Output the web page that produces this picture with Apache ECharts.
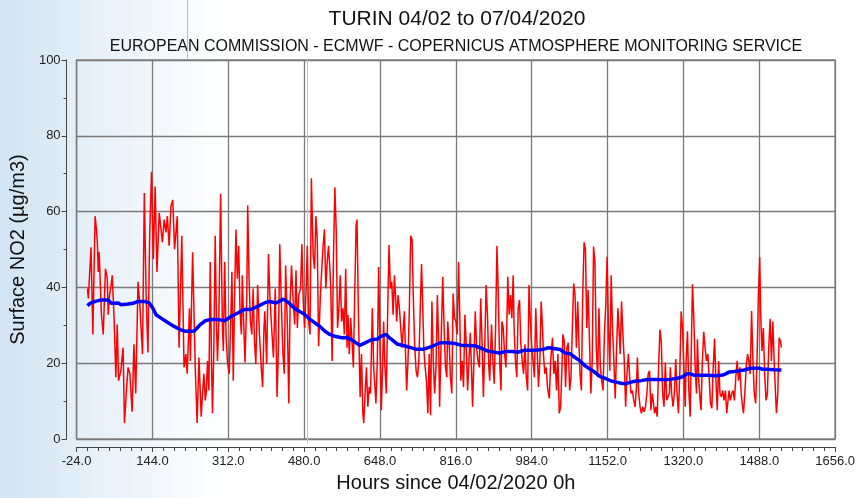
<!DOCTYPE html>
<html>
<head>
<meta charset="utf-8">
<script src="https://cdn.jsdelivr.net/npm/echarts/dist/echarts.min.js"></script>
<style>
  html, body { margin: 0; padding: 0; background: #fff; }
  #chart { width: 858px; height: 498px; }
</style>
</head>
<body>
<div id="chart"></div>
<script>
// hourly NO2 (hours since 04/02/2020 0h)
const hours = [0,2,8,12,17,20,22,24,26,31,35,40,44,46,49,52,55,59,63,66,69,74,79,82,86,90,94,99,103,107,112,116,122,126,130,134,138,142,146,150,154,159,163,166,170,174,177,181,185,189,193,199,203,209,214,218,221,226,228,233,239,243,247,252,
  255,258,261,263,266,269,272,275,277,280,283,286,288,291,295,299,301,304,307,310,314,317,320,323,326,329,332,335,338,341,343,346,349,353,355,358,361,364,367,370,373,377,381,385,388,391,393,397,401,404,408,412,416,420,423,426,430,433,436,439,443,446,449,452,455,459,462,465,468,472,475,478,481,484,487,490,493,496,500,503,506,509,
  512,516,519,522,525,528,531,534,537,539,542,545,548,551,554,557,560,563,566,569,572,575,577,580,583,586,589,592,595,597,600,604,607,610,612,615,618,621,624,627,631,634,639,642,645,648,651,654,656,659,662,665,668,671,674,677,680,683,685,688,691,694,697,702,704,707,710,713,716,719,722,725,728,731,734,737,740,742,745,748,751,754,757,760,763,766,769,
  772,775,778,780,783,787,790,793,796,798,801,804,807,810,813,816,819,822,825,827,830,833,836,839,842,845,848,851,853,856,859,862,865,868,871,874,877,880,883,886,889,891,895,898,901,904,907,910,913,916,918,921,924,927,931,934,937,940,943,945,948,951,954,957,960,963,966,969,972,975,978,981,984,987,990,993,996,999,1002,1005,1008,1010,1013,1016,1019,1023,1026,
  1030,1033,1036,1039,1042,1045,1048,1051,1053,1056,1059,1062,1065,1068,1071,1074,1077,1080,1083,1086,1089,1091,1094,1097,1100,1103,1106,1109,1112,1115,1118,1121,1124,1127,1130,1133,1136,1139,1142,1145,1148,1151,1154,1157,1160,1163,1166,1169,1172,1175,1178,1180,1183,1186,1189,1192,1195,1198,1201,1204,1207,1210,1213,1216,1218,1221,1224,1227,1230,1233,1236,1239,1242,1245,1248,1251,1253,1256,1259,1262,1265,1268,1271,1274,1277,1280,1283,1286,
  1289,1291,1294,1297,1300,1303,1306,1309,1312,1315,1318,1321,1324,1326,1329,1332,1335,1337,1340,1343,1346,1349,1351,1354,1357,1359,1362,1365,1368,1371,1374,1377,1380,1383,1386,1389,1392,1395,1398,1401,1404,1407,1410,1413,1416,1418,1421,1424,1427,1430,1433,1436,1439,1442,1445,1448,1451,1453,1456,1459,1462,1465,1468,1471,1474,1477,1480,1483,1486,1489,1491,1494,1497,1500,1503,1506,1509,1512,1515,1518,1521,1524,1526,1529,1532,1535,1537];
const no2 = [39.7,37.1,50.6,27.6,58.8,55.3,51.9,44.1,49.3,32.8,27.6,44.9,42.3,32.8,38.0,40.2,43.2,31.9,16.3,30.2,15.4,18.0,24.1,4.2,12.0,18.9,17.2,7.2,25.0,12.0,41.5,35.4,22.4,64.9,38.0,22.8,54.5,70.5,47.5,66.6,44.1,59.7,55.3,51.9,57.9,54.5,58.8,51.0,61.4,63.1,50.1,58.8,24.1,53.6,18.9,22.4,17.2,34.5,20.6,49.3,18.0,4.2,21.5,5.9,
  12.0,17.2,10.2,12.0,20.6,12.8,46.7,18.9,6.8,24.1,53.6,29.3,20.6,31.0,64.7,29.3,23.2,46.7,27.6,20.6,17.2,29.3,44.1,15.4,38.0,55.3,42.3,51.0,33.7,27.6,43.2,31.0,20.2,38.0,61.6,42.3,31.0,27.6,39.7,25.8,19.8,40.6,27.6,18.9,13.7,29.3,33.7,19.8,48.8,38.0,29.3,21.5,39.7,11.1,24.1,51.4,33.7,22.4,17.2,45.8,29.3,9.4,36.3,45.8,38.0,30.2,44.5,29.3,38.0,39.7,51.4,36.3,29.3,38.0,51.0,31.0,27.6,68.8,48.4,44.9,58.8,52.7,
  24.5,38.0,44.9,51.0,55.3,39.7,46.7,51.0,44.9,39.7,20.6,48.4,66.4,55.3,29.3,34.5,43.2,31.0,34.5,27.6,44.9,24.1,32.8,22.4,31.9,25.8,18.9,38.0,56.2,57.9,34.5,11.1,22.4,6.8,4.2,12.0,18.9,8.5,13.7,12.0,34.5,18.9,9.4,20.6,45.4,24.1,7.6,20.6,31.0,18.9,12.0,33.7,51.2,39.7,41.5,32.8,43.2,36.3,31.0,38.0,34.5,29.3,24.1,33.7,25.0,12.8,20.6,34.5,53.6,52.7,36.3,24.1,18.0,16.3,20.6,33.7,46.2,38.0,24.1,18.9,15.4,6.8,22.4,6.3,36.3,20.6,12.0,
  18.9,38.0,25.0,8.5,24.1,42.8,29.3,18.9,16.3,31.0,25.8,16.3,12.0,38.4,31.9,31.0,27.6,46.7,31.0,15.4,20.6,13.7,32.8,25.0,12.8,20.6,28.0,17.2,8.5,20.6,33.7,24.1,20.6,18.9,37.1,25.8,11.1,24.1,40.6,32.8,18.9,15.4,30.2,20.6,14.6,29.3,51.0,38.0,20.6,12.8,31.0,29.3,22.4,18.9,42.8,32.8,38.0,31.9,43.2,29.3,20.6,16.3,34.5,36.7,25.0,20.6,17.2,25.0,16.3,12.8,40.6,31.0,24.1,20.6,16.3,34.5,24.1,13.7,20.6,36.3,29.3,22.4,17.2,18.9,13.7,10.7,20.6,
  26.7,17.2,20.6,12.8,22.4,6.8,8.5,18.9,27.6,25.8,13.7,24.1,25.4,12.8,16.3,29.3,41.0,38.0,24.1,36.3,24.1,17.2,12.8,38.0,51.9,50.1,29.3,39.3,25.8,12.0,20.6,50.8,46.7,24.1,16.3,34.5,18.9,15.4,12.8,27.6,35.4,48.1,29.3,18.0,43.2,29.3,20.6,10.7,24.1,34.5,27.6,22.4,36.3,27.6,20.6,8.5,17.2,22.4,16.3,12.0,12.8,10.2,8.5,13.7,21.5,12.0,8.5,6.8,8.5,7.2,8.5,12.0,17.2,18.0,7.6,12.0,10.2,6.8,8.5,5.9,18.9,28.9,25.8,12.0,8.5,20.2,10.2,10.0,
  12.0,18.9,12.0,8.5,12.0,21.1,12.0,6.8,17.2,33.7,29.3,18.9,8.5,20.6,28.4,12.8,5.9,20.6,40.8,31.9,18.9,12.0,26.3,15.4,10.2,7.6,20.6,28.3,24.1,20.6,22.4,16.3,9.4,8.1,18.9,26.5,15.4,7.6,20.6,12.0,11.1,12.8,10.2,12.8,6.8,6.3,12.8,10.2,12.0,12.8,10.2,16.3,20.6,15.4,18.9,12.0,8.5,6.8,12.0,18.9,22.4,20.6,17.2,33.8,20.6,12.0,9.4,20.6,38.0,48.0,33.7,23.2,29.3,17.2,10.2,12.0,24.1,31.7,20.6,31.0,20.6,12.0,6.8,12.0,26.7,25.8,24.1];

// running mean (blue)
const meanHours = [0,6,17,31,46,53,61,68,75,90,101,112,126,137,145,152,163,177,192,207,218,236,243,250,261,272,290,304,319,334,348,363,377,392,403,418,434,447,458,469,480,494,509,515,526,537,548,563,574,585,596,603,614,629,643,650,661,672,687,702,716,727,745,760,770,781,799,814,829,843,858,872,887,902,913,927,942,953,967,982,997,1011,1021,1032,1047,1058,1069,1080,1091,1102,1113,1124,1135,1149,1160,1171,1182,1193,1204,1215,1226,1240,1255,1270,1280,1294,1309,1320,1327,1335,1345,1360,1375,1389,1404,1411,1422,1433,1444,1455,1466,1477,1488,1495,1506,1521,1537];
const meanNo2 = [35.2,35.8,36.3,36.7,36.7,35.8,35.8,35.9,35.4,35.6,35.8,36.3,36.3,35.9,34.5,32.8,31.9,30.8,29.7,28.8,28.4,28.4,29.3,30.2,31.2,31.5,31.5,31.2,32.4,33.3,34.2,34.2,35.0,35.9,36.3,35.9,36.9,35.9,34.5,33.7,33.0,31.5,30.2,29.7,28.4,27.6,27.1,26.7,26.8,26.2,25.3,24.7,25.3,26.2,26.4,27.1,27.6,26.4,25.0,24.6,24.1,23.7,23.7,24.3,24.8,25.4,25.4,25.2,24.7,24.7,24.6,24.0,23.2,22.9,22.7,23.1,23.1,22.9,23.4,23.4,23.5,23.7,24.1,23.9,23.6,22.7,22.5,21.5,20.6,19.3,18.5,17.6,16.5,15.9,15.3,15.0,14.7,14.6,15.0,15.3,15.4,15.7,15.7,15.7,15.6,15.8,16.1,16.5,17.2,17.2,16.8,16.8,16.8,16.7,16.8,17.0,17.7,17.8,18.0,18.2,18.6,18.7,18.7,18.4,18.4,18.3,18.2];

const myChart = echarts.init(document.getElementById('chart'), null, { renderer: 'canvas' });

const options = {
  animation: false,
  backgroundColor: {
    type: 'linear', x: 0, y: 0, x2: 1, y2: 0,
    colorStops: [
      { offset: 0, color: '#d2e4f2' },
      { offset: 0.1, color: '#e4eff8' },
      { offset: 0.26, color: '#ffffff' },
      { offset: 1, color: '#ffffff' },
    ],
  },
  title: [
    {
      text: 'TURIN 04/02 to 07/04/2020',
      left: 452,
      textAlign: 'center',
      top: 4,
      textStyle: { fontFamily: 'Liberation Sans', fontSize: 21, fontWeight: 'normal', color: '#111' },
    },
    {
      text: 'EUROPEAN COMMISSION - ECMWF - COPERNICUS ATMOSPHERE MONITORING SERVICE',
      left: 451,
      textAlign: 'center',
      top: 34,
      textStyle: { fontFamily: 'Liberation Sans', fontSize: 16, fontWeight: 'normal', color: '#111' },
    },
  ],
  grid: {
    left: 73,
    right: 18,
    top: 60,
    bottom: 54,
    show: true,
    borderColor: '#8a8a8a',
    borderWidth: 1.5,
  },
  xAxis: {
    type: 'value',
    min: -24,
    max: 1656,
    interval: 168,
    offset: 8,
    name: 'Hours since 04/02/2020 0h',
    nameLocation: 'middle',
    nameGap: 26,
    nameTextStyle: { fontFamily: 'Liberation Sans', fontSize: 20, color: '#111', verticalAlign: 'top' },
    axisLine: { show: true, onZero: false, lineStyle: { color: '#444', width: 1 } },
    axisTick: { show: true, length: 5, lineStyle: { color: '#444' } },
    minorTick: { show: true, splitNumber: 7, length: 4, lineStyle: { color: '#444' } },
    axisLabel: {
      fontFamily: 'Liberation Sans',
      fontSize: 13,
      color: '#222',
      margin: 8,
      formatter: (v) => v.toFixed(1),
    },
    splitLine: { show: true, lineStyle: { color: '#7a7a7a', width: 1.3 } },
  },
  yAxis: {
    type: 'value',
    min: 0,
    max: 100,
    interval: 20,
    offset: 10,
    name: 'Surface NO2 (µg/m3)',
    nameLocation: 'middle',
    nameGap: 28,
    nameTextStyle: { fontFamily: 'Liberation Sans', fontSize: 20, color: '#111' },
    axisLine: { show: true, onZero: false, lineStyle: { color: '#444', width: 1 } },
    axisTick: { show: true, length: 5, lineStyle: { color: '#444' } },
    minorTick: { show: true, splitNumber: 2, length: 3, lineStyle: { color: '#444' } },
    axisLabel: { fontFamily: 'Liberation Sans', fontSize: 13, color: '#222', margin: 6 },
    splitLine: { show: true, lineStyle: { color: '#7a7a7a', width: 1.3 } },
  },
  graphic: [
    { type: 'line', shape: { x1: 187.5, y1: 0, x2: 187.5, y2: 60 }, style: { stroke: '#9cc3e6', lineWidth: 1 }, z: 10 },
    { type: 'line', shape: { x1: 307.5, y1: 60, x2: 307.5, y2: 444 }, style: { stroke: '#a8cbe9', lineWidth: 1 }, z: 1 },
  ],
  series: [
    {
      type: 'line',
      data: hours.map((h, i) => [h, no2[i]]),
      showSymbol: false,
      lineStyle: { color: '#ff0000', width: 1.5 },
      z: 3,
    },
    {
      type: 'line',
      data: meanHours.map((h, i) => [h, meanNo2[i]]),
      showSymbol: false,
      lineStyle: { color: '#0000ff', width: 3.5 },
      z: 4,
    },
  ],
};

myChart.setOption(options);
</script>
</body>
</html>
